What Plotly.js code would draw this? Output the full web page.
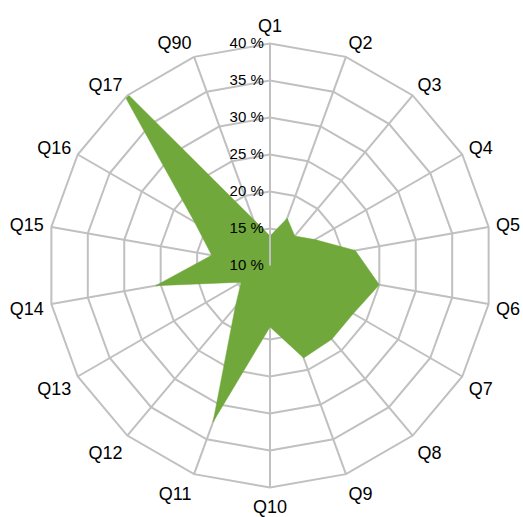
<!DOCTYPE html>
<html>
<head>
<meta charset="utf-8">
<script src="https://cdn.plot.ly/plotly-3.0.1.min.js"></script>
<style>html,body{margin:0;padding:0;background:#fff;}#chart{width:523px;height:517px;}</style>
</head>
<body>
<div id="chart"></div>
<script>
var categories = ["Q1","Q2","Q3","Q4","Q5","Q6","Q7","Q8","Q9","Q10","Q11","Q12","Q13","Q14","Q15","Q16","Q17","Q90"];
var values = [14.0, 16.8, 15.2, 17.0, 21.7, 25.0, 23.0, 23.0, 23.3, 18.3, 32.5, 17.3, 14.5, 25.7, 18.0, 21.8, 41.8, 16.7];
var radialTicks = [10, 15, 20, 25, 30, 35, 40];
var radialTickText = radialTicks.map(function(v){ return v + " %"; });

var trace = {
  type: "scatterpolar",
  r: values.concat([values[0]]),
  theta: categories.concat([categories[0]]),
  mode: "lines",
  fill: "toself",
  fillcolor: "#70a83b",
  line: {color: "#70a83b", width: 0.5},
  cliponaxis: false,
  hoverinfo: "skip"
};

var grid = "#c0c0c0";
var layout = {
  width: 523, height: 517,
  margin: {l: 0, r: 0, t: 0, b: 0},
  paper_bgcolor: "#ffffff",
  showlegend: false,
  font: {family: "Liberation Sans, Arial, sans-serif", color: "#000000"},
  polar: {
    domain: {x: [48/523, 492/523], y: [29.5/517, 473.5/517]},
    gridshape: "linear",
    bgcolor: "rgba(0,0,0,0)",
    angularaxis: {
      direction: "clockwise",
      rotation: 90,
      type: "category",
      categoryorder: "array",
      categoryarray: categories,
      showline: true,
      linecolor: grid,
      linewidth: 2,
      gridcolor: grid,
      gridwidth: 2,
      ticks: "outside",
      ticklen: 3,
      tickcolor: "rgba(0,0,0,0)",
      tickfont: {size: 18, color: "#000"},
      layer: "above traces"
    },
    radialaxis: {
      range: [10, 40],
      angle: 90,
      tickangle: 90,
      tickvals: radialTicks,
      ticktext: radialTickText,
      tickfont: {size: 15, color: "#000"},
      showline: true,
      linecolor: grid,
      linewidth: 2,
      gridcolor: grid,
      gridwidth: 2,
      ticks: "",
      side: "counterclockwise",
      layer: "above traces"
    }
  }
};

Plotly.newPlot("chart", [trace], layout, {displayModeBar: false, staticPlot: true});
</script>
</body>
</html>
